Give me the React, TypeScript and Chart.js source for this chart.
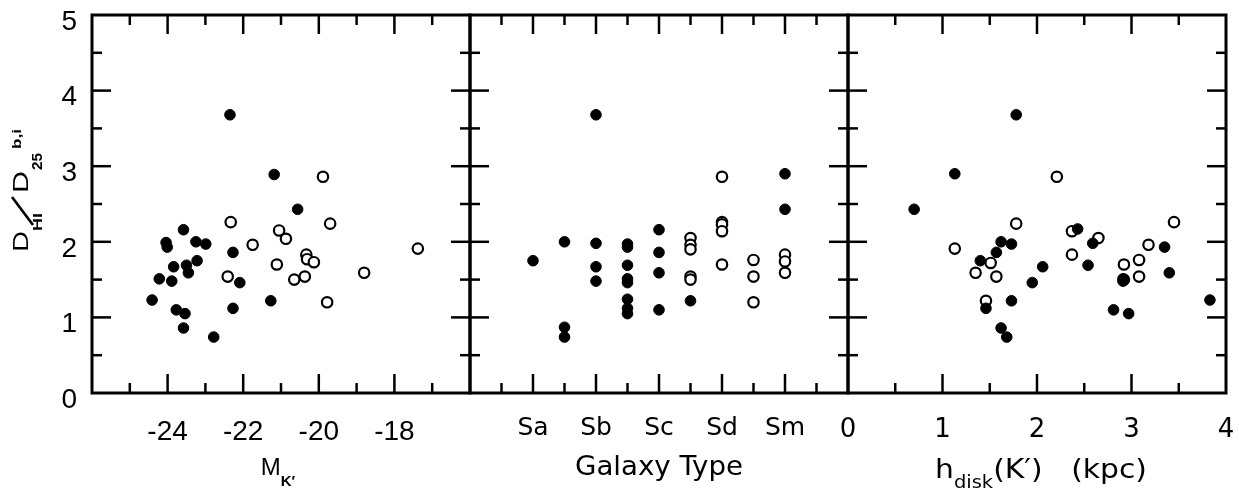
import React, { useEffect, useRef } from 'react';
import { Chart, registerables } from 'chart.js';

Chart.register(...registerables);

const W = 1239;
const H = 488;
const PLOT_TOP = 15;
const PLOT_BOTTOM = 393;
const ARIAL = '"Liberation Sans", Arial, sans-serif';
const DEJAVU = '"DejaVu Sans", sans-serif';

// ---- Y axis ----
const yTickValues = [0, 1, 2, 3, 4, 5];
const yTickLabels = ['0', '1', '2', '3', '4', '5'];

// ---- Panel 1: M_K' ----
const mkTickValues = [-24, -22, -20, -18];
const mkTickLabels = ['-24', '-22', '-20', '-18'];
const mkFilledX = [-22.35, -21.18, -20.56, -23.58, -24.04, -24.01, -23.25, -22.99, -22.27, -23.22, -23.5, -23.84, -23.45, -24.22, -23.89, -22.09, -24.41, -21.27, -22.27, -23.77, -23.54, -23.58, -22.78];
const mkFilledY = [3.68, 2.89, 2.43, 2.16, 1.99, 1.93, 2.0, 1.97, 1.86, 1.75, 1.69, 1.67, 1.59, 1.51, 1.48, 1.46, 1.23, 1.22, 1.12, 1.1, 1.05, 0.86, 0.74];
const mkOpenX = [-19.89, -19.7, -22.33, -21.05, -20.87, -21.75, -17.38, -20.33, -20.31, -20.13, -21.11, -22.41, -20.37, -20.65, -18.8, -19.78];
const mkOpenY = [2.86, 2.24, 2.26, 2.15, 2.04, 1.96, 1.91, 1.83, 1.77, 1.73, 1.7, 1.54, 1.54, 1.5, 1.59, 1.2];

// ---- Panel 2: Galaxy type ----
const typeTickValues = [1, 2, 3, 4, 5];
const typeTickLabels = ['Sa', 'Sb', 'Sc', 'Sd', 'Sm'];
const typeFilledX = [1, 1.5, 1.5, 1.5, 2, 2, 2, 2, 2.5, 2.5, 2.5, 2.5, 2.5, 2.5, 2.5, 2.5, 3, 3, 3, 3, 3.5, 5, 5];
const typeFilledY = [1.75, 2.0, 0.87, 0.74, 3.68, 1.98, 1.67, 1.48, 1.97, 1.93, 1.69, 1.51, 1.46, 1.24, 1.12, 1.05, 2.16, 1.86, 1.59, 1.1, 1.22, 2.9, 2.43];
const typeOpenX = [3.5, 3.5, 3.5, 3.5, 3.5, 4, 4, 4, 4, 4, 4.5, 4.5, 4.5, 5, 5, 5];
const typeOpenY = [2.05, 1.96, 1.9, 1.54, 1.5, 2.86, 2.26, 2.23, 2.14, 1.7, 1.76, 1.54, 1.2, 1.83, 1.74, 1.59];

// ---- Panel 3: h_disk(K') ----
const hTickValues = [0, 1, 2, 3, 4];
const hTickLabels = ['0', '1', '2', '3', '4'];
const hFilledX = [1.78, 1.13, 0.7, 2.43, 1.62, 1.73, 1.57, 2.59, 3.35, 1.4, 2.06, 2.54, 3.4, 1.95, 2.91, 2.91, 1.73, 1.46, 3.83, 2.81, 2.97, 1.62, 1.68];
const hFilledY = [3.68, 2.9, 2.43, 2.17, 2.0, 1.97, 1.86, 1.98, 1.93, 1.75, 1.67, 1.69, 1.59, 1.46, 1.51, 1.48, 1.22, 1.12, 1.23, 1.1, 1.05, 0.86, 0.74];
const hOpenX = [2.21, 1.78, 3.45, 2.37, 2.65, 3.18, 1.13, 2.37, 3.08, 1.51, 2.92, 1.35, 1.57, 3.08, 1.46, 2.92];
const hOpenY = [2.86, 2.24, 2.26, 2.14, 2.05, 1.96, 1.91, 1.83, 1.76, 1.72, 1.7, 1.59, 1.54, 1.54, 1.22, 1.5];

type Seg = { t: string; size: number; fam: string; dy: number; bold?: boolean };

function fontOf(s: Seg) {
  return `${s.bold ? 'bold ' : ''}${s.size}px ${s.fam}`;
}

// draws segments centred at cx, optionally stretched horizontally to a target width
function drawRich(ctx: CanvasRenderingContext2D, segs: Seg[], cx: number, baseY: number, targetW?: number) {
  let total = 0;
  const widths = segs.map((s) => {
    ctx.font = fontOf(s);
    const w = ctx.measureText(s.t).width;
    total += w;
    return w;
  });
  const sx = targetW ? targetW / total : 1;
  ctx.save();
  ctx.translate(cx - (total * sx) / 2, baseY);
  ctx.scale(sx, 1);
  ctx.textAlign = 'left';
  ctx.textBaseline = 'alphabetic';
  let x = 0;
  segs.forEach((s, i) => {
    ctx.font = fontOf(s);
    ctx.fillText(s.t, x, s.dy);
    x += widths[i];
  });
  ctx.restore();
}

// text piece stretched to span [s0, s1] along the baseline
function drawSpan(ctx: CanvasRenderingContext2D, t: string, font: string, s0: number, s1: number, y: number) {
  ctx.font = font;
  const w = ctx.measureText(t).width;
  ctx.save();
  ctx.translate(s0, y);
  ctx.scale((s1 - s0) / w, 1);
  ctx.textAlign = 'left';
  ctx.textBaseline = 'alphabetic';
  ctx.fillText(t, 0, 0);
  ctx.restore();
}

const zip = (xs: number[], ys: number[]) => xs.map((x, i) => ({ x, y: ys[i] }));

const framePlugin = {
  id: 'panelFrame',
  afterDraw(chart: any) {
    const o = chart.options.plugins.panelFrame;
    const { ctx, chartArea: a } = chart;
    const xs = chart.scales.x;
    const ys = chart.scales.y;
    ctx.save();
    ctx.strokeStyle = '#000';
    ctx.fillStyle = '#000';
    ctx.lineWidth = 2.5;
    const line = (x1: number, y1: number, x2: number, y2: number) => {
      ctx.beginPath();
      ctx.moveTo(x1, y1);
      ctx.lineTo(x2, y2);
      ctx.stroke();
    };
    for (let v = ys.min + 0.5; v < ys.max - 1e-9; v += 0.5) {
      const L = Math.abs(v - Math.round(v)) < 1e-9 ? 19 : 10;
      const p = ys.getPixelForValue(v);
      line(a.left, p, a.left + L, p);
      line(a.right, p, a.right - L, p);
    }
    for (let v = xs.min + o.xStep; v < xs.max - 1e-9; v += o.xStep) {
      const r = v / o.xMajor;
      const L = Math.abs(r - Math.round(r)) < 1e-9 ? 19 : 10;
      const p = xs.getPixelForValue(v);
      line(p, a.bottom, p, a.bottom - L);
      line(p, a.top, p, a.top + L);
    }
    ctx.lineWidth = 3;
    ctx.strokeRect(a.left, a.top, a.right - a.left, a.bottom - a.top);

    if (o.title === 'mk') {
      drawRich(ctx, [
        { t: 'M', size: 24, fam: ARIAL, dy: 0 },
        { t: 'K\u2032', size: 15, fam: ARIAL, dy: 11, bold: true },
      ], 278, 475);
      // y title, rotated, reading bottom to top
      ctx.save();
      ctx.translate(28, 252);
      ctx.rotate(-Math.PI / 2);
      drawSpan(ctx, 'D', `22px ${ARIAL}`, 0, 21, 0);
      drawSpan(ctx, 'HI', `bold 13px ${ARIAL}`, 21, 39, 14);
      ctx.lineWidth = 2.6;
      ctx.beginPath();
      ctx.moveTo(27, 5);
      ctx.lineTo(55, -16);
      ctx.stroke();
      drawSpan(ctx, 'D', `22px ${ARIAL}`, 59, 81, 0);
      drawSpan(ctx, '25', `bold 14px ${ARIAL}`, 82, 99, 14);
      drawSpan(ctx, 'b,i', `bold 13px ${ARIAL}`, 103, 123, -7);
      ctx.restore();
    } else if (o.title === 'type') {
      drawRich(ctx, [{ t: 'Galaxy Type', size: 27, fam: DEJAVU, dy: 0 }], 659, 475, 168);
    } else if (o.title === 'h') {
      drawRich(ctx, [
        { t: 'h', size: 26, fam: DEJAVU, dy: 0 },
        { t: 'disk', size: 17, fam: DEJAVU, dy: 10 },
        { t: '(K\u2032)   (kpc)', size: 26, fam: DEJAVU, dy: 0 },
      ], 1041, 478, 212);
    }
    ctx.restore();
  },
};

type PanelCfg = {
  padLeft: number;
  padRight: number;
  xMin: number;
  xMax: number;
  xStep: number;
  xMajor: number;
  tickValues: number[];
  tickLabels: string[];
  fontFam: string;
  fontSize: number;
  tickPad: number;
  filledX: number[];
  filledY: number[];
  openX: number[];
  openY: number[];
  showY: boolean;
  title: string;
};

function makeConfig(p: PanelCfg): any {
  return {
    type: 'scatter',
    data: {
      datasets: [
        {
          data: zip(p.filledX, p.filledY),
          backgroundColor: '#000',
          borderColor: '#000',
          borderWidth: 1,
          pointRadius: 5.3,
        },
        {
          data: zip(p.openX, p.openY),
          backgroundColor: '#fff',
          borderColor: '#000',
          borderWidth: 2.2,
          pointRadius: 5.2,
        },
      ],
    },
    options: {
      animation: false,
      responsive: false,
      devicePixelRatio: 1,
      events: [],
      layout: { padding: { left: p.padLeft, right: p.padRight, top: PLOT_TOP, bottom: 0 } },
      plugins: {
        legend: { display: false },
        tooltip: { enabled: false },
        panelFrame: { xStep: p.xStep, xMajor: p.xMajor, title: p.title },
      },
      scales: {
        x: {
          type: 'linear',
          position: 'bottom',
          min: p.xMin,
          max: p.xMax,
          grid: { display: false, drawTicks: false },
          border: { display: false },
          afterFit: (s: any) => {
            s.height = H - PLOT_BOTTOM;
            s.paddingLeft = 0;
            s.paddingRight = 0;
          },
          ticks: {
            stepSize: p.xStep,
            autoSkip: false,
            maxRotation: 0,
            minRotation: 0,
            padding: p.tickPad,
            color: '#000',
            font: { family: p.fontFam, size: p.fontSize },
            callback: (v: any) => {
              const i = p.tickValues.findIndex((t) => Math.abs(t - Number(v)) < 1e-9);
              return i >= 0 ? p.tickLabels[i] : '';
            },
          },
        },
        y: {
          type: 'linear',
          display: p.showY,
          min: 0,
          max: 5,
          grid: { display: false, drawTicks: false },
          border: { display: false },
          afterFit: (s: any) => {
            s.width = p.showY ? 92 : 0;
            s.paddingTop = 0;
            s.paddingBottom = 0;
          },
          ticks: {
            stepSize: 0.5,
            autoSkip: false,
            padding: 15,
            labelOffset: 7,
            color: '#000',
            font: { family: ARIAL, size: 28 },
            callback: (v: any) => {
              const i = yTickValues.findIndex((t) => Math.abs(t - Number(v)) < 1e-9);
              return i >= 0 ? yTickLabels[i] : '';
            },
          },
        },
      },
    },
    plugins: [framePlugin],
  };
}

const panels: PanelCfg[] = [
  {
    padLeft: 0, padRight: W - 470, xMin: -26, xMax: -16, xStep: 1, xMajor: 2,
    tickValues: mkTickValues, tickLabels: mkTickLabels, fontFam: ARIAL, fontSize: 28, tickPad: 22,
    filledX: mkFilledX, filledY: mkFilledY, openX: mkOpenX, openY: mkOpenY, showY: true, title: 'mk',
  },
  {
    padLeft: 470, padRight: W - 848, xMin: 0, xMax: 6, xStep: 0.5, xMajor: 1,
    tickValues: typeTickValues, tickLabels: typeTickLabels, fontFam: DEJAVU, fontSize: 25, tickPad: 20,
    filledX: typeFilledX, filledY: typeFilledY, openX: typeOpenX, openY: typeOpenY, showY: false, title: 'type',
  },
  {
    padLeft: 848, padRight: W - 1226, xMin: 0, xMax: 4, xStep: 0.5, xMajor: 1,
    tickValues: hTickValues, tickLabels: hTickLabels, fontFam: DEJAVU, fontSize: 26, tickPad: 22,
    filledX: hFilledX, filledY: hFilledY, openX: hOpenX, openY: hOpenY, showY: false, title: 'h',
  },
];

function Panel({ cfg }: { cfg: PanelCfg }) {
  const ref = useRef<HTMLCanvasElement>(null);
  useEffect(() => {
    if (!ref.current) return;
    const chart = new Chart(ref.current, makeConfig(cfg));
    return () => chart.destroy();
  }, [cfg]);
  return (
    <canvas
      ref={ref}
      width={W}
      height={H}
      style={{ position: 'absolute', left: 0, top: 0, width: W, height: H }}
    />
  );
}

export default function App() {
  return (
    <div style={{ position: 'absolute', left: 0, top: 0, width: W, height: H, background: '#fff' }}>
      {panels.map((p, i) => (
        <Panel key={i} cfg={p} />
      ))}
    </div>
  );
}
